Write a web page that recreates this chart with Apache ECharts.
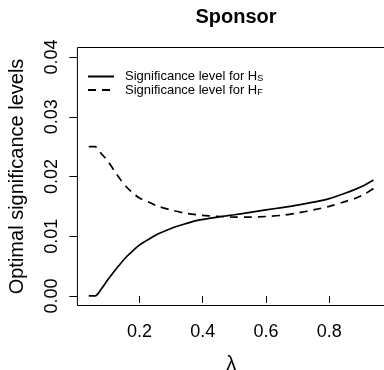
<!DOCTYPE html>
<html>
<head>
<meta charset="utf-8">
<script src="https://cdn.jsdelivr.net/npm/echarts@6/dist/echarts.min.js"></script>
<style>html,body{margin:0;padding:0;background:#fff}#c{width:384px;height:370px}</style>
</head>
<body>
<div id="c"></div>
<script>
var lambda = [0.04,0.06,0.08,0.10,0.12,0.14,0.16,0.18,0.20,0.23,0.26,0.30,0.34,0.38,0.42,0.46,0.50,0.55,0.60,0.65,0.70,0.75,0.80,0.85,0.88,0.91,0.94];
var sigHS  = [0,0,0.0012,0.0027,0.0041,0.0054,0.0066,0.0076,0.0085,0.0095,0.0104,0.0113,0.0120,0.0126,0.0130,0.0133,0.0136,0.0140,0.0144,0.0148,0.0152,0.0157,0.0163,0.0172,0.0178,0.0185,0.0194];
var sigHF  = [0.0250,0.0250,0.0238,0.0226,0.0210,0.0195,0.0182,0.0172,0.0164,0.0157,0.0150,0.0144,0.0139,0.0136,0.0134,0.0133,0.0132,0.0132,0.0133,0.0135,0.0139,0.0144,0.0150,0.0158,0.0163,0.0170,0.0180];
var xTicks = [0.2,0.4,0.6,0.8];
var yTicks = [0,0.01,0.02,0.03,0.04];
var seriesNames = ['Significance level for H{sub|S}','Significance level for H{sub|F}'];

function pairs(xs, ys){ return xs.map(function(x,i){ return [x, ys[i]]; }); }
var FF = '"Liberation Sans", Arial, Helvetica, sans-serif';
var chart = echarts.init(document.getElementById('c'), null, {renderer:'canvas'});
chart.setOption({
  animation: false,
  backgroundColor: '#fff',
  textStyle: {fontFamily: FF},
  title: {
    text: 'Sponsor', left: 231, top: 2, textAlign: 'center',
    textStyle: {fontFamily: FF, fontWeight: 'bold', fontSize: 20, color: '#000'}
  },
  legend: {
    orient: 'vertical', left: 82, top: 65, itemWidth: 26, itemHeight: 14, itemGap: 0,
    data: seriesNames,
    itemStyle: {opacity: 0},
    formatter: function(n){ return n; },
    textStyle: {fontFamily: FF, fontSize: 13, color: '#000', padding: [0,0,0,6],
      rich: {sub: {fontSize: 9, color: '#000', fontFamily: FF, padding: [5,0,0,0]}}}
  },
  grid: {left: 77.4, top: 47.5, width: 307.5, height: 258, outerBoundsMode: 'none', containLabel: false,
    show: true, borderColor: '#000', borderWidth: 1, backgroundColor: 'transparent'},
  xAxis: {
    type: 'value', min: 0.004, max: 0.976,
    name: 'λ', nameLocation: 'middle', nameGap: 49,
    nameTextStyle: {fontFamily: FF, fontSize: 20, color: '#000'},
    axisLine: {show: false},
    splitLine: {show: false},
    axisTick: {show: true, customValues: xTicks, length: 7, lineStyle: {color: '#000'}},
    axisLabel: {customValues: xTicks, fontSize: 18, color: '#000', margin: 18, fontFamily: FF,
      formatter: function(v){ return v.toFixed(1); }}
  },
  yAxis: {
    type: 'value', min: -0.0016, max: 0.0416,
    name: 'Optimal significance levels', nameLocation: 'middle', nameGap: 50, nameRotate: 90,
    nameTextStyle: {fontFamily: FF, fontSize: 20, color: '#000'},
    axisLine: {show: false},
    splitLine: {show: false},
    axisTick: {show: true, customValues: yTicks, length: 8, lineStyle: {color: '#000'}},
    axisLabel: {customValues: yTicks, rotate: 90, fontSize: 18, color: '#000', margin: 16, fontFamily: FF,
      formatter: function(v){ return v.toFixed(2); }}
  },
  series: [
    {name: seriesNames[0], type: 'line', data: pairs(lambda, sigHS), symbol: 'none', smooth: 0.3,
     lineStyle: {color: '#000', width: 1.7, type: 'solid'}, itemStyle: {color: '#000'}},
    {name: seriesNames[1], type: 'line', data: pairs(lambda, sigHF), symbol: 'none', smooth: 0.3,
     lineStyle: {color: '#000', width: 1.7, type: [8,6]}, itemStyle: {color: '#000'}}
  ]
});
</script>
</body>
</html>
